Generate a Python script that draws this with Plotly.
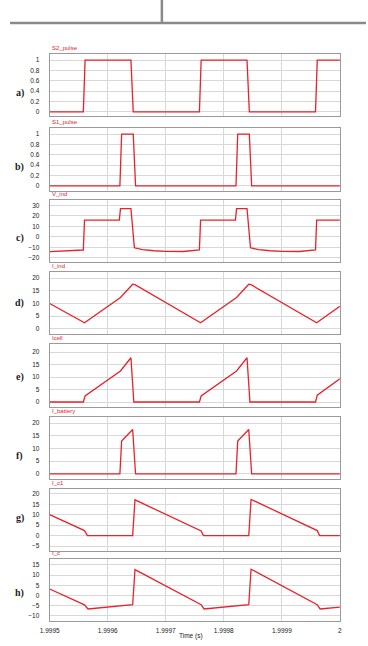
import plotly.graph_objects as go

# ---------------- data ----------------
X_TICKS = [1.9995, 1.9996, 1.9997, 1.9998, 1.9999, 2.0]
X_TICKTEXT = ["1.9995", "1.9996", "1.9997", "1.9998", "1.9999", "2"]

s2_t = [1.9995, 1.999558, 1.999561, 1.999640, 1.999644, 1.999758, 1.999761, 1.999840, 1.999844, 1.999958, 1.999961, 2.0]
s2_v = [0, 0, 1, 1, 0, 0, 1, 1, 0, 0, 1, 1]

s1_t = [1.9995, 1.999621, 1.999624, 1.999644, 1.999648, 1.999821, 1.999824, 1.999844, 1.999848, 2.0]
s1_v = [0, 0, 1, 1, 0, 0, 1, 1, 0, 0]

vind_t = [1.9995, 1.999558, 1.999560, 1.999620, 1.999622, 1.999640, 1.999646, 1.999660, 1.999680,
          1.999700, 1.999730, 1.999758, 1.999760, 1.999820, 1.999822, 1.999840, 1.999846, 1.999860,
          1.999880, 1.999900, 1.999930, 1.999958, 1.999960, 2.0]
vind_v = [-14.2, -12.6, 15.8, 15.8, 26.8, 26.8, -10.5, -12.2, -13.3, -13.9, -14.0, -12.6, 15.8, 15.8,
          26.8, 26.8, -10.5, -12.2, -13.3, -13.9, -14.0, -12.6, 15.8, 15.8]

iind_t = [1.9995, 1.999560, 1.999622, 1.999643, 1.999647, 1.999760, 1.999822, 1.999843, 1.999847, 1.999960, 2.0]
iind_v = [10.0, 2.4, 12.4, 17.6, 17.4, 2.4, 12.4, 17.6, 17.4, 2.4, 8.9]

icell_t = [1.9995, 1.999558, 1.999561, 1.999622, 1.999640, 1.999645, 1.999758, 1.999761, 1.999822,
           1.999840, 1.999845, 1.999958, 1.999961, 2.0]
icell_v = [0, 0, 2.4, 12.4, 17.7, 0, 0, 2.4, 12.4, 17.7, 0, 0, 2.7, 9.3]

ibat_t = [1.9995, 1.999621, 1.999624, 1.999643, 1.999648, 1.999821, 1.999824, 1.999843, 1.999848, 2.0]
ibat_v = [0, 0, 12.9, 17.5, 0, 0, 12.9, 17.5, 0, 0]

ic1_t = [1.9995, 1.999560, 1.999565, 1.999643, 1.999647, 1.999761, 1.999765, 1.999843, 1.999847,
         1.999961, 1.999965, 2.0]
ic1_v = [10.1, 2.4, 0, 0, 17.2, 2.2, 0, 0, 17.4, 2.4, 0, 0]

ic_t = [1.9995, 1.999560, 1.999566, 1.999643, 1.999647, 1.999761, 1.999766, 1.999843, 1.999847,
        1.999961, 1.999966, 2.0]
ic_v = [3.2, -4.6, -6.6, -4.5, 12.7, -4.5, -6.6, -4.5, 12.9, -4.5, -6.6, -5.7]

titles = ["S2_pulse", "S1_pulse", "V_ind", "I_ind", "Icell", "I_battery", "I_c1", "I_c"]
labels = ["a)", "b)", "c)", "d)", "e)", "f)", "g)", "h)"]
series_t = [s2_t, s1_t, vind_t, iind_t, icell_t, ibat_t, ic1_t, ic_t]
series_v = [s2_v, s1_v, vind_v, iind_v, icell_v, ibat_v, ic1_v, ic_v]
y_ticks = [
    [0, 0.2, 0.4, 0.6, 0.8, 1],
    [0, 0.2, 0.4, 0.6, 0.8, 1],
    [-20, -10, 0, 10, 20, 30],
    [0, 5, 10, 15, 20],
    [0, 5, 10, 15, 20],
    [0, 5, 10, 15, 20],
    [-5, 0, 5, 10, 15, 20],
    [-10, -5, 0, 5, 10, 15],
]

# ---------------- layout ----------------
W, H = 368, 646
X0, X1 = 41, 341
boxes = [(54, 116), (128, 191), (200, 262), (272, 334), (344, 407), (417, 479), (489, 551), (559, 621)]
y_ranges = [[-0.08, 1.12], [-0.10, 1.12], [-24, 35], [-2, 22.4], [-2, 23.2], [-2, 22.4], [-7.4, 22.4], [-12.5, 17.9]]
label_y = [93, 167, 238, 303, 377, 456, 518, 593]

RED = "#e8212a"
GRID = "#d8d8d8"
FRAME = "#9a9a9a"
TICKFONT = dict(family="Arial, Liberation Sans", size=6.5, color="#222222")

fig = go.Figure()
layout = dict(width=W, height=H, margin=dict(l=0, r=0, t=0, b=0),
              paper_bgcolor="white", plot_bgcolor="white", showlegend=False)
annotations = []

for i in range(8):
    k = i + 1
    sfx = "" if k == 1 else str(k)
    xa, ya = "x" + sfx, "y" + sfx
    fig.add_trace(go.Scatter(x=series_t[i], y=series_v[i], mode="lines",
                             line=dict(color=RED, width=1.3), xaxis=xa, yaxis=ya,
                             hoverinfo="skip"))
    top, bot = boxes[i]
    layout["xaxis" + sfx] = dict(
        domain=[X0 / W, X1 / W], range=[1.9995, 2.0], anchor=ya,
        tickvals=X_TICKS, ticktext=X_TICKTEXT, showticklabels=(k == 8),
        showgrid=True, gridcolor=GRID, gridwidth=1, zeroline=False,
        showline=True, linecolor=FRAME, linewidth=1, mirror=True, ticks="",
        tickfont=TICKFONT, ticklabelstandoff=3)
    layout["yaxis" + sfx] = dict(
        domain=[1 - bot / H, 1 - top / H], range=y_ranges[i], anchor=xa,
        tickvals=y_ticks[i], showgrid=True, gridcolor=GRID, gridwidth=1,
        zeroline=False, showline=True, linecolor=FRAME, linewidth=1, mirror=True,
        ticks="", tickfont=TICKFONT, ticklabelstandoff=8)
    annotations.append(dict(text=titles[i], xref="paper", yref="paper",
                            x=X0 / W, y=1 - (top - 1) / H, xanchor="left", yanchor="bottom",
                            showarrow=False, font=dict(family="Arial", size=6, color=RED)))
    annotations.append(dict(text="<b>" + labels[i] + "</b>", xref="paper", yref="paper",
                            x=10 / W, y=1 - label_y[i] / H, xanchor="center", yanchor="middle",
                            showarrow=False,
                            font=dict(family="Liberation Serif, Times New Roman", size=10, color="#222")))

annotations.append(dict(text="Time (s)", xref="paper", yref="paper", x=187 / W, y=1 - 636 / H,
                        xanchor="center", yanchor="middle", showarrow=False,
                        font=dict(family="Arial", size=6.5, color="#222")))

shapes = [
    dict(type="line", xref="paper", yref="paper", x0=0, x1=1, y0=1 - 23 / H, y1=1 - 23 / H,
         line=dict(color="#8a8a8a", width=2.5)),
    dict(type="line", xref="paper", yref="paper", x0=157 / W, x1=157 / W, y0=1, y1=1 - 23 / H,
         line=dict(color="#8a8a8a", width=2.5)),
]

layout["annotations"] = annotations
layout["shapes"] = shapes
fig.update_layout(**layout)
fig.write_html("out.html")
